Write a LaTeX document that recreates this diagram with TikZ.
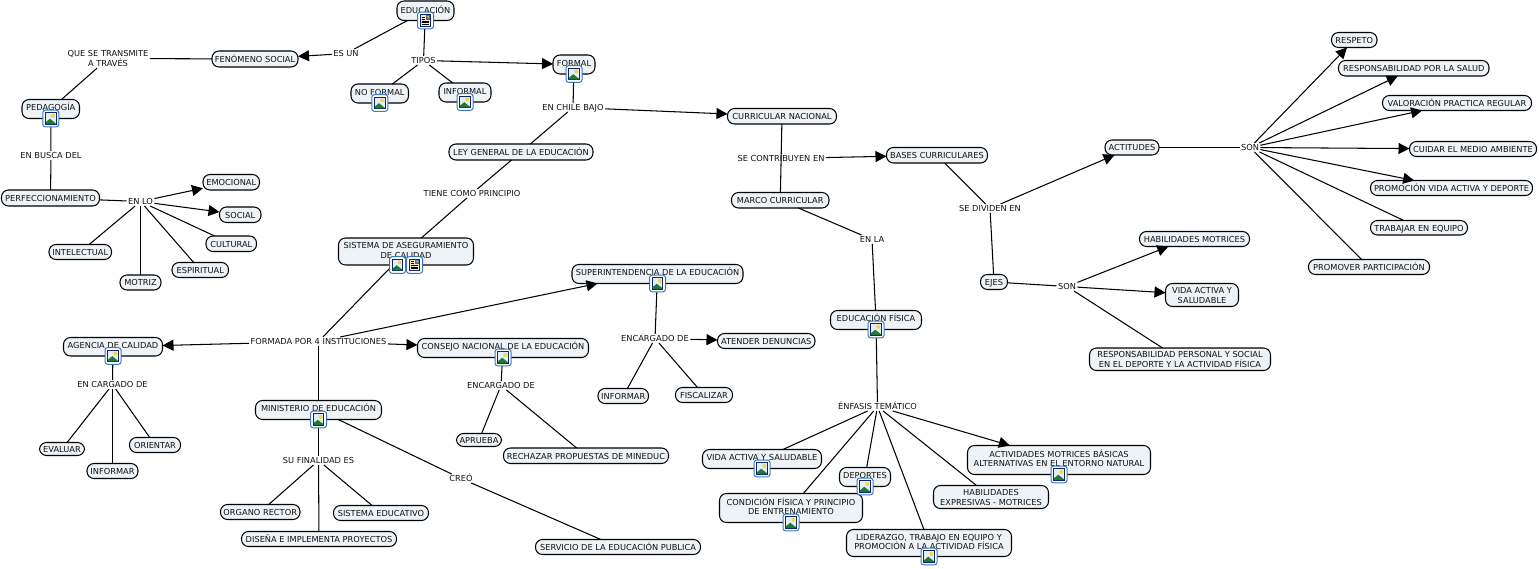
\documentclass[tikz,border=0pt]{standalone}
\usepackage{fontspec}
\setmainfont{DejaVu Sans}
\usetikzlibrary{arrows.meta}
\definecolor{boxfill}{HTML}{EDF3F6}
\definecolor{txt}{HTML}{101010}
\definecolor{iconblue}{HTML}{3A78C6}
\definecolor{iconnavy}{HTML}{14246A}
\definecolor{iconsky}{HTML}{E2EEF9}
\definecolor{icongreen}{HTML}{1F7A33}
\definecolor{iconsun}{HTML}{F2D64B}
\definecolor{iconpage}{HTML}{F8EFC0}
\tikzset{
  box/.style={draw=black,line width=1.05pt,fill=boxfill,rounded corners=7pt,inner sep=0pt,outer sep=0pt,text=txt},
  lab/.style={inner xsep=1.5pt,inner ysep=1.5pt,text height=6pt,text depth=0pt,text=txt,outer sep=0pt,yshift=-.5pt},
  lab2/.style={inner xsep=1.5pt,inner ysep=1.5pt,align=center,text=txt,outer sep=0pt,yshift=-.5pt},
  ln/.style={line width=1.05pt,draw=black},
  arr/.style={line width=1.05pt,draw=black,-{Triangle[length=11pt,width=11pt]}},
  imgicon/.pic={
    \draw[iconblue,line width=1pt,fill=white,rounded corners=2.5pt] (-8,-8.3) rectangle (8,8.3);
    \fill[iconnavy] (-5.8,-6.4) rectangle (5.8,6.4);
    \fill[iconsky] (-4.8,-5.4) rectangle (4.8,5.4);
    \fill[iconsun] (2.2,-2.6) circle (2);
    \fill[icongreen] (-4.8,5.4) -- (-4.8,3.6) -- (-0.8,0.2) -- (4.8,4.6) -- (4.8,5.4) -- cycle;
  },
  docicon/.pic={
    \draw[iconblue,line width=1pt,fill=white,rounded corners=2.5pt] (-8,-8.3) rectangle (8,8.3);
    \fill[iconnavy] (-5.8,-6.4) rectangle (5.8,6.4);
    \fill[iconpage] (-4.8,-5.4) rectangle (4.8,5.4);
    \fill[iconnavy!70] (0,-5.4) rectangle (4.8,-0.6);
    \fill[iconsun] (2.8,-3.6) circle (1);
    \foreach \yy in {-3.2,-1.4,0.6,2.2,3.8}{\draw[black,line width=.7pt] (-3.8,\yy) -- (\ifdim \yy pt<0pt -0.6\else 3.8\fi,\yy);}
  }
}
\newcommand\twol[2]{\makebox[0pt]{\raisebox{4.9pt}[0pt][0pt]{#1}}\makebox[0pt]{\raisebox{-4.9pt}[0pt][0pt]{#2}}}
% \bx[text lift]{name}{x1}{x2}{y1}{y2}{text}
\newcommand\bx[6][0]{%
  \pgfmathsetmacro\cxx{(#3+#4)/2}\pgfmathsetmacro\cyy{(#5+#6)/2}%
  \pgfmathsetmacro\wdd{#4-#3}\pgfmathsetmacro\htt{#6-#5}%
  \pgfmathsetmacro\rss{#1-3.5}%
  \node[box,minimum width=\wdd pt,minimum height=\htt pt] (#2) at (\cxx,\cyy) {\makebox[0pt]{\raisebox{\rss pt}[0pt][0pt]{\BoxText}}};%
}
\begin{document}
\begin{tikzpicture}[x=1pt,y=-1pt,font=\fontsize{8.25}{10}\selectfont]
\useasboundingbox[fill=white] (0,0) rectangle (1539,569);
% concept boxes
\def\BoxText{EDUCACIÓN}\bx[1]{edu}{397}{454}{1}{20.5}
\def\BoxText{FORMAL}\bx[1.8]{formal}{553}{595}{55}{74}
\def\BoxText{NO FORMAL}\bx[1.8]{noformal}{351}{408.5}{84}{103}
\def\BoxText{INFORMAL}\bx[1.8]{informal}{439}{491}{83}{102}
\def\BoxText{FENÓMENO SOCIAL}\bx{fenomeno}{212}{298}{51}{67}
\def\BoxText{PEDAGOGÍA}\bx[1.8]{pedagogia}{22}{79.5}{99.5}{118.5}
\def\BoxText{PERFECCIONAMIENTO}\bx{perfec}{1.5}{99.5}{190}{206}
\def\BoxText{EMOCIONAL}\bx{emocional}{203}{259.5}{174.5}{190}
\def\BoxText{SOCIAL}\bx{social}{219.5}{261}{207}{222.5}
\def\BoxText{CULTURAL}\bx{cultural}{206}{256.5}{236}{251.5}
\def\BoxText{ESPIRITUAL}\bx{espiritual}{172}{228.5}{262.5}{277.5}
\def\BoxText{MOTRIZ}\bx{motriz}{120}{161}{275}{290}
\def\BoxText{INTELECTUAL}\bx{intelectual}{49}{111.5}{244.5}{259.5}
\def\BoxText{LEY GENERAL DE LA EDUCACIÓN}\bx{ley}{449}{593}{144}{160}
\def\BoxText{CURRICULAR NACIONAL}\bx{curricular}{727.5}{836.5}{108.5}{124}
\def\BoxText{BASES CURRICULARES}\bx{bases}{886.5}{987.5}{147.5}{163}
\def\BoxText{MARCO CURRICULAR}\bx{marco}{731.5}{829}{192.5}{208}
\def\BoxText{\twol{SISTEMA DE ASEGURAMIENTO}{DE CALIDAD}}\bx[1.5]{sistema}{338.5}{473.5}{238}{265}
\def\BoxText{SUPERINTENDENCIA DE LA EDUCACIÓN}\bx[1.8]{super}{572}{743}{264.5}{283.5}
\def\BoxText{AGENCIA DE CALIDAD}\bx[1.8]{agencia}{63.5}{162.5}{337.5}{356}
\def\BoxText{CONSEJO NACIONAL DE LA EDUCACIÓN}\bx[1.8]{consejo}{417.5}{588.5}{338.5}{357.5}
\def\BoxText{MINISTERIO DE EDUCACIÓN}\bx[1.8]{ministerio}{255.5}{381.5}{400.5}{419.5}
\def\BoxText{ATENDER DENUNCIAS}\bx{atender}{717.5}{815}{333.5}{348.5}
\def\BoxText{INFORMAR}\bx{informarb}{598}{648.5}{388.5}{403.5}
\def\BoxText{FISCALIZAR}\bx{fiscalizar}{675.5}{732.5}{387.5}{402.5}
\def\BoxText{APRUEBA}\bx{aprueba}{456.5}{501.5}{433.5}{446.5}
\def\BoxText{RECHAZAR PROPUESTAS DE MINEDUC}\bx{rechazar}{503.5}{668.5}{448}{463.5}
\def\BoxText{EVALUAR}\bx{evaluar}{39.5}{84.5}{442.5}{455.5}
\def\BoxText{INFORMAR}\bx{informara}{87}{138}{463.5}{478.5}
\def\BoxText{ORIENTAR}\bx{orientar}{129.5}{180.5}{437.5}{452.5}
\def\BoxText{ORGANO RECTOR}\bx{organo}{220.5}{300}{504.5}{519.5}
\def\BoxText{SISTEMA EDUCATIVO}\bx{sisedu}{333.5}{428.5}{505.5}{520.5}
\def\BoxText{DISEÑA E IMPLEMENTA PROYECTOS}\bx{disena}{241.5}{396.5}{531.5}{546.5}
\def\BoxText{SERVICIO DE LA EDUCACIÓN PUBLICA}\bx{servicio}{535.5}{700.5}{539.5}{554.5}
\def\BoxText{EDUCACIÓN FÍSICA}\bx[1.8]{edufis}{830.5}{921.5}{310.5}{329.5}
\def\BoxText{VIDA ACTIVA Y SALUDABLE}\bx[1.8]{vidaa}{702.5}{821.5}{449.5}{468.5}
\def\BoxText{DEPORTES}\bx[1.8]{deportes}{839.5}{890.5}{467.5}{486.5}
\def\BoxText{\twol{CONDICIÓN FÍSICA Y PRINCIPIO}{DE ENTRENAMIENTO}}\bx[1.5]{condicion}{719.5}{862.5}{493.5}{522.5}
\def\BoxText{\twol{HABILIDADES}{EXPRESIVAS - MOTRICES}}\bx{habexp}{933.5}{1048.5}{485.5}{508.5}
\def\BoxText{\twol{LIDERAZGO, TRABAJO EN EQUIPO Y}{PROMOCIÓN A LA ACTIVIDAD FÍSICA}}\bx[1.5]{liderazgo}{846.5}{1011.5}{529.5}{556.5}
\def\BoxText{\twol{ACTIVIDADES MOTRICES BÁSICAS}{ALTERNATIVAS EN EL ENTORNO NATURAL}}\bx[1.5]{actividades}{967.5}{1150.5}{445.5}{474.5}
\def\BoxText{ACTITUDES}\bx{actitudes}{1105}{1159}{140}{155}
\def\BoxText{EJES}\bx{ejes}{980.5}{1007.5}{274.5}{289.5}
\def\BoxText{HABILIDADES MOTRICES}\bx{habmot}{1139.5}{1249.5}{231.5}{246.5}
\def\BoxText{\twol{VIDA ACTIVA Y}{SALUDABLE}}\bx{vidab}{1165.5}{1238.5}{283.5}{306.5}
\def\BoxText{\twol{RESPONSABILIDAD PERSONAL Y SOCIAL}{EN EL DEPORTE Y LA ACTIVIDAD FÍSICA}}\bx{responsab}{1089.5}{1270.5}{348}{370.5}
\def\BoxText{RESPETO}\bx{respeto}{1331.5}{1377}{32.5}{47.5}
\def\BoxText{RESPONSABILIDAD POR LA SALUD}\bx{salud}{1338.5}{1489}{60.5}{76}
\def\BoxText{VALORACIÓN PRACTICA REGULAR}\bx{valor}{1382.5}{1531.5}{95.5}{110.5}
\def\BoxText{CUIDAR EL MEDIO AMBIENTE}\bx{cuidar}{1409.5}{1536.5}{141.5}{156.5}
\def\BoxText{PROMOCIÓN VIDA ACTIVA Y DEPORTE}\bx{promocion}{1370.5}{1532.5}{180.5}{195.5}
\def\BoxText{TRABAJAR EN EQUIPO}\bx{trabajar}{1370.5}{1467.5}{220.5}{235}
\def\BoxText{PROMOVER PARTICIPACIÓN}\bx{promover}{1308.5}{1429.5}{259.5}{274.5}
% linking phrases
\node[lab] (esun) at (346,53) {ES UN};
\node[lab2] (transmite) at (108,58) {QUE SE TRANSMITE\\A TRAVÉS};
\node[lab] (tipos) at (423.5,60) {TIPOS};
\node[lab] (chile) at (573,107) {EN CHILE BAJO};
\node[lab] (contrib) at (781,158) {SE CONTRIBUYEN EN};
\node[lab] (dividen) at (990,208) {SE DIVIDEN EN};
\node[lab] (principio) at (472,193) {TIENE COMO PRINCIPIO};
\node[lab] (busca) at (51,155) {EN BUSCA DEL};
\node[lab] (enlo) at (140.5,201) {EN LO};
\node[lab] (formada) at (318.5,341) {FORMADA POR 4 INSTITUCIONES};
\node[lab] (cargado) at (112.5,384) {EN CARGADO DE};
\node[lab] (encsup) at (655,338) {ENCARGADO DE};
\node[lab] (enccon) at (501,385) {ENCARGADO DE};
\node[lab] (finalidad) at (318.5,460) {SU FINALIDAD ES};
\node[lab] (creo) at (461,478) {CREÓ};
\node[lab] (enfasis) at (877.5,406) {ÉNFASIS TEMÁTICO};
\node[lab] (enla) at (872,239) {EN LA};
\node[lab] (sonb) at (1067,286) {SON};
\node[lab] (sona) at (1250,147) {SON};
% connectors
\draw[ln] (edu) -- (esun);
\draw[arr] (esun) -- (fenomeno);
\draw[ln] (fenomeno) -- (transmite);
\draw[ln] (transmite) -- (pedagogia);
\draw[ln] (pedagogia) -- (busca);
\draw[ln] (busca) -- (perfec);
\draw[ln] (perfec) -- (enlo);
\draw[arr] (enlo) -- (emocional);
\draw[arr] (enlo) -- (social);
\draw[ln] (enlo) -- (cultural);
\draw[ln] (enlo) -- (espiritual);
\draw[ln] (enlo) -- (motriz);
\draw[ln] (enlo) -- (intelectual);
\draw[ln] (edu) -- (tipos);
\draw[arr] (tipos) -- (formal);
\draw[ln] (tipos) -- (noformal);
\draw[ln] (tipos) -- (informal);
\draw[ln] (formal) -- (chile);
\draw[arr] (chile) -- (curricular);
\draw[ln] (chile) -- (ley);
\draw[ln] (ley) -- (principio);
\draw[ln] (principio) -- (sistema);
\draw[ln] (sistema) -- (formada);
\draw[arr] (formada) -- (agencia);
\draw[arr] (formada) -- (consejo);
\draw[arr] (formada) -- (super.189);
\draw[ln] (formada) -- (ministerio);
\draw[ln] (agencia) -- (cargado);
\draw[ln] (cargado) -- (evaluar);
\draw[ln] (cargado) -- (informara);
\draw[ln] (cargado) -- (orientar);
\draw[ln] (consejo) -- (enccon);
\draw[ln] (enccon) -- (aprueba);
\draw[ln] (enccon) -- (rechazar);
\draw[ln] (super) -- (encsup);
\draw[arr] (encsup) -- (atender);
\draw[ln] (encsup) -- (informarb);
\draw[ln] (encsup) -- (fiscalizar);
\draw[ln] (ministerio) -- (finalidad);
\draw[ln] (finalidad) -- (organo);
\draw[ln] (finalidad) -- (sisedu);
\draw[ln] (finalidad) -- (disena);
\draw[ln] (ministerio) -- (creo);
\draw[ln] (creo) -- (servicio);
\draw[ln] (curricular) -- (marco);
\draw[arr] (contrib) -- (bases);
\draw[ln] (bases) -- (dividen);
\draw[arr] (dividen) -- (actitudes);
\draw[ln] (dividen) -- (ejes);
\draw[ln] (marco) -- (enla);
\draw[ln] (enla) -- (edufis);
\draw[ln] (edufis) -- (enfasis);
\draw[ln] (enfasis) -- (vidaa);
\draw[ln] (enfasis) -- (deportes);
\draw[ln] (enfasis) -- (condicion);
\draw[ln] (enfasis) -- (habexp);
\draw[ln] (enfasis) -- (liderazgo);
\draw[arr] (enfasis) -- (actividades);
\draw[ln] (ejes) -- (sonb);
\draw[arr] (sonb) -- (habmot.196);
\draw[arr] (sonb) -- (vidab);
\draw[ln] (sonb) -- (responsab);
\draw[ln] (actitudes) -- (sona);
\draw[arr] (sona) -- (respeto);
\draw[arr] (sona) -- (salud);
\draw[arr] (sona) -- (valor);
\draw[arr] (sona) -- (cuidar);
\draw[arr] (sona) -- (promocion);
\draw[ln] (sona) -- (trabajar);
\draw[ln] (sona) -- (promover);
% icons
\pic at (edu.south) {docicon};
\pic at (formal.south) {imgicon};
\pic at (noformal.south) {imgicon};
\pic at (informal.south) {imgicon};
\pic at (pedagogia.south) {imgicon};
\pic at ([xshift=-8.5pt]sistema.south) {imgicon};
\pic at ([xshift=8.5pt]sistema.south) {docicon};
\pic at (super.south) {imgicon};
\pic at (agencia.south) {imgicon};
\pic at (consejo.south) {imgicon};
\pic at (ministerio.south) {imgicon};
\pic at (edufis.south) {imgicon};
\pic at (vidaa.south) {imgicon};
\pic at (deportes.south) {imgicon};
\pic at (condicion.south) {imgicon};
\pic at (liderazgo.south) {imgicon};
\pic at (actividades.south) {imgicon};
\end{tikzpicture}
\end{document}
